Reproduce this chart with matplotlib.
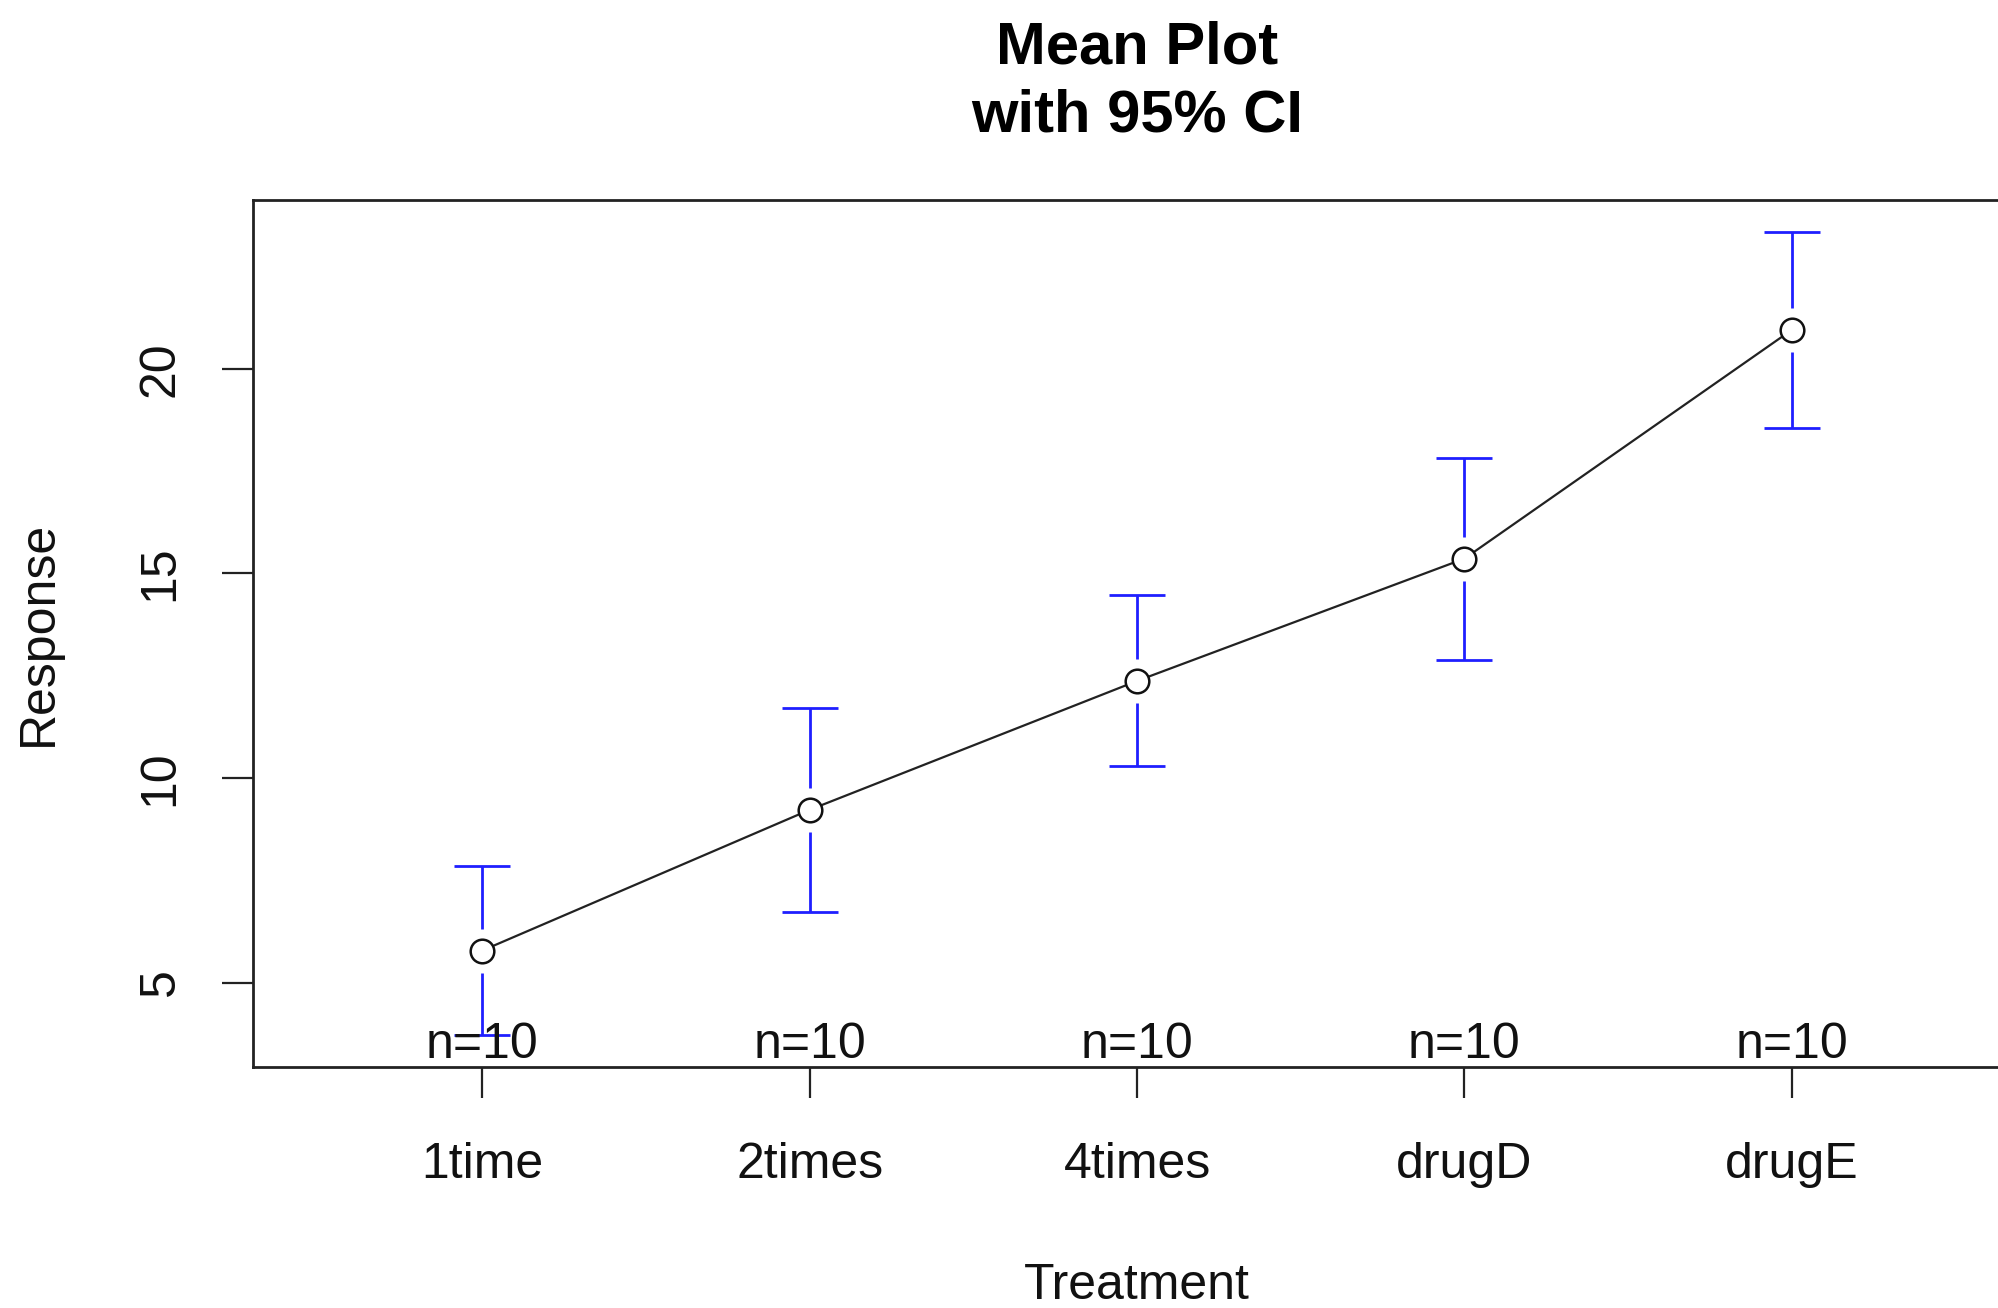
import numpy as np
import matplotlib.pyplot as plt

plt.rcParams['font.family'] = ['Liberation Sans', 'DejaVu Sans']

# Data (cholesterol response by treatment, means with 95% CI)
groups = ["1time", "2times", "4times", "drugD", "drugE"]
means = [5.78, 9.22, 12.37, 15.36, 20.95]
ci_lo = [3.72, 6.73, 10.28, 12.89, 18.55]
ci_hi = [7.84, 11.72, 14.47, 17.83, 23.34]
n_obs = [10, 10, 10, 10, 10]
y_ticks = [5, 10, 15, 20]

blue = "#1f1fff"
W, H = 1998, 1308

fig = plt.figure(figsize=(W / 100, H / 100), dpi=100)
# plot region runs off the right edge, like the cropped reference
ax = fig.add_axes([253 / W, 1 - 1067 / H, (2021 - 253) / W, 867 / H])

x = np.arange(1, len(groups) + 1)

# R style 4% extension of the ranges
x_lo, x_hi = 0.5, len(groups) + 0.5
ext = 0.04 * (x_hi - x_lo)
ax.set_xlim(x_lo - ext, x_hi + ext)
y_lo, y_hi = min(ci_lo), max(ci_hi)
ext = 0.04 * (y_hi - y_lo)
ax.set_ylim(y_lo - ext, y_hi + ext)

# pixel gap around each point, converted to data units
px_per_unit = ax.transData.transform((0, 1))[1] - ax.transData.transform((0, 0))[1]
gap = 22 / px_per_unit

lo = np.array(ci_lo)
hi = np.array(ci_hi)
m = np.array(means)
ax.vlines(x, m + gap, hi, color=blue, lw=2.0)
ax.vlines(x, lo, m - gap, color=blue, lw=2.0)
ax.plot(x, hi, ls="none", marker="_", ms=40, mew=2.0, color=blue)
ax.plot(x, lo, ls="none", marker="_", ms=40, mew=2.0, color=blue)

ax.plot(x, means, color="#222222", lw=1.6, marker="o", ms=17,
        mfc="white", mec="#111111", mew=1.8, zorder=3)

for xi, n in zip(x, n_obs):
    ax.annotate(f"n={n}", xy=(xi, 0), xycoords=("data", "axes fraction"),
                xytext=(0, 6.5), textcoords="offset points",
                ha="center", va="baseline", fontsize=36, color="#111111")

ax.set_xticks(x)
ax.set_xticklabels(groups)
ax.set_yticks(y_ticks)
ax.set_yticklabels([str(t) for t in y_ticks], rotation=90, va="center")
ax.tick_params(axis="both", length=22, width=1.6, labelsize=36,
               colors="#222222", labelcolor="#111111")
ax.tick_params(axis="x", pad=32)
ax.tick_params(axis="y", pad=28)
for s in ax.spines.values():
    s.set_linewidth(2.0)
    s.set_color("#222222")

ax.text(0.5, -0.2526, "Treatment", transform=ax.transAxes,
        ha="center", va="center", fontsize=36, color="#111111")
ax.text(-0.121, 0.5, "Response", transform=ax.transAxes, rotation=90,
        ha="center", va="center", fontsize=36, color="#111111")
ax.text(0.5, 1 + (200 - 82) / 867, "Mean Plot\nwith 95% CI", transform=ax.transAxes,
        ha="center", va="center", fontsize=43, fontweight="bold",
        linespacing=1.3, color="black")

fig.savefig("out.png", dpi=100)
